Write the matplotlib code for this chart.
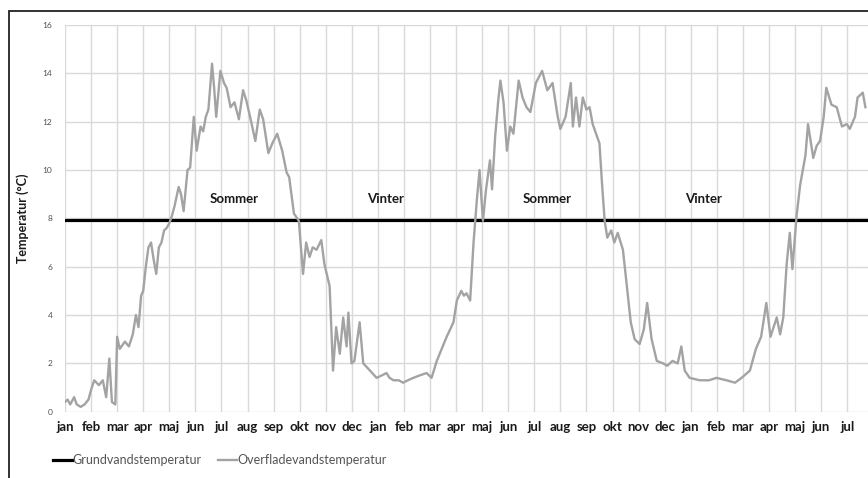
import matplotlib
matplotlib.use("Agg")
import matplotlib.pyplot as plt
from matplotlib.patches import Rectangle

# month labels (jan year 1 .. jul year 3)
months = ["jan", "feb", "mar", "apr", "maj", "jun", "jul", "aug", "sep", "okt", "nov", "dec"]
tick_labels = months * 2 + months[:7]

# surface water temperature: (month position, temperature)
surf_m = [0.0, 0.1, 0.2, 0.35, 0.45, 0.6, 0.75, 0.9, 1.0, 1.12, 1.3, 1.45, 1.58, 1.7, 1.8, 1.93,
          2.0, 2.1, 2.3, 2.45, 2.6, 2.72, 2.82, 2.92, 3.0, 3.1, 3.2, 3.3, 3.4, 3.5, 3.6, 3.7, 3.8,
          3.9, 4.0, 4.1, 4.2, 4.36, 4.45, 4.55, 4.7, 4.8, 4.94, 5.05, 5.2, 5.3, 5.4, 5.5, 5.64,
          5.72, 5.8, 5.96, 6.1, 6.2, 6.35, 6.5, 6.67, 6.83, 6.95, 7.1, 7.3, 7.47, 7.6, 7.8, 7.95,
          8.14, 8.33, 8.5, 8.6, 8.78, 8.97, 9.13, 9.25, 9.38, 9.5, 9.65, 9.83, 9.95, 10.15, 10.28,
          10.4, 10.54, 10.67, 10.8, 10.87, 10.99, 11.1, 11.3, 11.44, 11.7, 11.95, 12.15, 12.33,
          12.45, 12.6, 12.8, 12.97, 13.15, 13.36, 13.6, 13.87, 14.06, 14.26, 14.45, 14.64, 14.9,
          15.03, 15.2, 15.3, 15.4, 15.54, 15.67, 15.8, 15.9, 16.03, 16.15, 16.3, 16.38, 16.5,
          16.62, 16.7, 16.82, 16.95, 17.08, 17.2, 17.4, 17.55, 17.7, 17.85, 18.06, 18.3, 18.5,
          18.7, 18.9, 19.0, 19.2, 19.4, 19.48, 19.6, 19.73, 19.86, 20.0, 20.12, 20.24, 20.5,
          20.6, 20.7, 20.8, 20.95, 21.07, 21.2, 21.4, 21.5, 21.7, 21.85, 22.04, 22.2, 22.33, 22.5,
          22.7, 22.94, 23.1, 23.3, 23.5, 23.64, 23.77, 23.96, 24.35, 24.7, 24.99, 25.37, 25.7,
          25.95, 26.27, 26.5, 26.7, 26.9, 27.06, 27.3, 27.43, 27.55, 27.68, 27.8, 27.9, 28.06,
          28.2, 28.4, 28.5, 28.7, 28.83, 28.96, 29.1, 29.2, 29.4, 29.6, 29.8, 29.99, 30.1, 30.3,
          30.4, 30.6, 30.7]
surf_t = [0.4, 0.5, 0.3, 0.6, 0.3, 0.2, 0.3, 0.5, 0.9, 1.3, 1.1, 1.3, 0.6, 2.2, 0.4, 0.3,
          3.1, 2.6, 2.9, 2.7, 3.2, 4.0, 3.5, 4.8, 5.0, 6.0, 6.8, 7.0, 6.3, 5.7, 6.8, 7.0, 7.5,
          7.6, 7.8, 8.1, 8.5, 9.3, 9.0, 8.3, 10.0, 10.1, 12.2, 10.8, 11.8, 11.6, 12.2, 12.5, 14.4,
          13.4, 12.2, 14.1, 13.6, 13.4, 12.6, 12.8, 12.1, 13.3, 12.9, 12.2, 11.2, 12.5, 12.1, 10.7, 11.1,
          11.5, 10.8, 9.9, 9.7, 8.2, 7.9, 5.7, 7.0, 6.4, 6.8, 6.7, 7.1, 6.1, 5.2, 1.7,
          3.5, 2.4, 3.9, 2.7, 4.1, 2.0, 2.1, 3.7, 2.0, 1.7, 1.4, 1.5, 1.6,
          1.4, 1.3, 1.3, 1.2, 1.3, 1.4, 1.5, 1.6, 1.4, 2.1, 2.6, 3.1, 3.7,
          4.6, 5.0, 4.8, 4.9, 4.6, 7.0, 8.8, 10.0, 7.9, 9.2, 10.4, 9.2, 11.4,
          12.9, 13.7, 12.8, 10.8, 11.8, 11.5, 13.7, 13.0, 12.6, 12.4, 13.6, 14.1, 13.3,
          13.6, 12.2, 11.7, 12.2, 13.6, 11.8, 13.0, 11.8, 13.0, 12.5, 12.6, 11.9, 11.1,
          9.4, 7.9, 7.2, 7.5, 7.0, 7.4, 6.7, 5.7, 3.7, 3.0, 2.8, 3.4, 4.5, 3.0,
          2.1, 2.0, 1.9, 2.1, 2.0, 2.7, 1.7, 1.4, 1.3, 1.3, 1.4, 1.3, 1.2,
          1.4, 1.7, 2.6, 3.1, 4.5, 3.1, 3.9, 3.2, 3.9, 6.1, 7.4, 5.9, 8.1,
          9.4, 10.6, 11.9, 10.5, 11.0, 11.2, 12.2, 13.4, 12.7, 12.6, 11.8, 11.9, 11.7, 12.2,
          13.0, 13.2, 12.6]

# groundwater temperature (constant)
grund_m = [0.0, 30.8]
grund_t = [7.95, 7.95]

# season labels
season_text = ["Sommer", "Vinter", "Sommer", "Vinter"]
season_m = [6.5, 12.3, 18.5, 24.5]
season_t = [8.78, 8.78, 8.78, 8.78]

W, H = 868, 478
fig = plt.figure(figsize=(W / 100, H / 100), dpi=100)
fig.patch.set_facecolor("white")
ax = fig.add_axes([65 / W, 1 - 411.7 / H, (W - 65) / W, (411.7 - 25) / H])

l1, = ax.plot(grund_m, grund_t, color="black", lw=2.3, label="Grundvandstemperatur", zorder=3)
l2, = ax.plot(surf_m, surf_t, color="#a3a3a3", lw=1.7, label="Overfladevandstemperatur", zorder=4)

ax.set_xlim(0, 30.8)
ax.set_ylim(0, 16)
ax.set_yticks(range(0, 17, 2))
ax.set_xticks(range(len(tick_labels)))
ax.set_xticklabels(tick_labels, fontsize=9.5, fontweight="bold", family="Lato", color="#1a1a1a")
for lab in ax.get_yticklabels():
    lab.set_fontsize(6)
    lab.set_color("#505050")
    lab.set_family("Lato")
ax.tick_params(axis="y", length=0, pad=9)
ax.tick_params(axis="x", length=0, pad=7)
ax.grid(True, color="#d9d9d9", lw=1.0)
ax.set_axisbelow(True)
for s in ax.spines.values():
    s.set_visible(False)

ax.set_ylabel("Temperatur (°C)", fontsize=9, fontweight="bold", family="Lato", labelpad=10,
              color="#1a1a1a")

for txt, xm, yt in zip(season_text, season_m, season_t):
    ax.text(xm, yt, txt, ha="center", va="center", fontsize=9.5, fontweight="bold",
            family="Lato", color="#1a1a1a")

leg = fig.legend(handles=[l1, l2], loc="center left", bbox_to_anchor=(53 / W, 1 - 460 / H),
                 ncol=2, frameon=False, handlelength=1.5, handletextpad=0.05,
                 columnspacing=1.3, borderaxespad=0, borderpad=0,
                 prop={"family": "Lato", "size": 9})
for t in leg.get_texts():
    t.set_color("#555555")

fig.add_artist(Rectangle((9 / W, -0.1), 1.2, 1 - 11 / H + 0.1, transform=fig.transFigure,
                         fill=False, edgecolor="#222222", lw=1.3))

fig.savefig("out.png", dpi=100)
